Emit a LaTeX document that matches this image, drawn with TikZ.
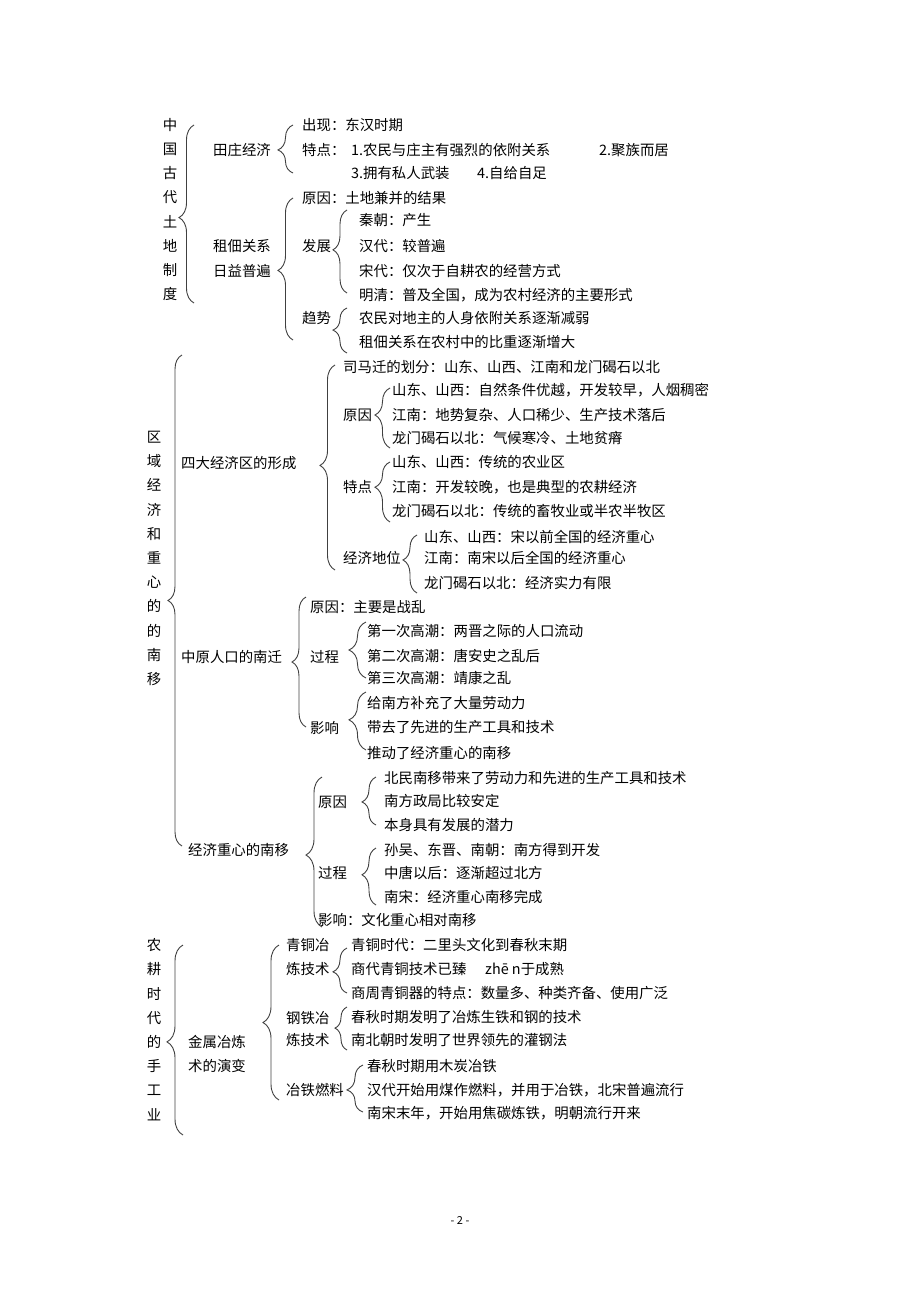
\documentclass[tikz,border=0pt]{standalone}
\usepackage{fontspec}
\setmainfont{Noto Sans CJK SC}
\usetikzlibrary{decorations.pathreplacing}

\begin{document}
\begin{tikzpicture}[x=1pt, y=-1pt,
    txt/.style={anchor=west, inner sep=0pt, font=\fontsize{14.4}{17}\selectfont},
    col/.style={anchor=center, inner sep=0pt, align=center, font=\fontsize{14.4}{24.2}\selectfont},
    brc/.style n args={2}{decorate, decoration={brace, amplitude=#1, aspect=#2}, line width=0.9pt, black!75}]
    \useasboundingbox (0,0) rectangle (920,1301);
    %\draw[step=100, gray, very thin] (0,0) grid (920,1301);

    % 中国古代土地制度
    \node[col] (zggd) at (170, 209.5) {中\\国\\古\\代\\土\\地\\制\\度};
    \node[txt] (tz) at (213, 150) {田庄经济};
    \node[txt] (tzcx) at (302, 125) {出现：东汉时期};
    \node[txt] (tztd) at (302, 150) {特点：};
    \node[txt] (tztd1) at (351, 150) {1.农民与庄主有强烈的依附关系};
    \node[txt] (tztd2) at (599, 150) {2.聚族而居};
    \node[txt] (tztd3) at (351, 173) {3.拥有私人武装};
    \node[txt] (tztd4) at (477, 173) {4.自给自足};
    \node[txt] (zd) at (213, 246) {租佃关系};
    \node[txt] (zd2) at (213, 271) {日益普遍};
    \node[txt] (zdyy) at (302, 198) {原因：土地兼并的结果};
    \node[txt] (zdfz) at (302, 246) {发展};
    \node[txt] (fz1) at (359, 220) {秦朝：产生};
    \node[txt] (fz2) at (359, 246) {汉代：较普遍};
    \node[txt] (fz3) at (359, 271) {宋代：仅次于自耕农的经营方式};
    \node[txt] (fz4) at (359, 295) {明清：普及全国，成为农村经济的主要形式};
    \node[txt] (zdqs) at (302, 318) {趋势};
    \node[txt] (qs1) at (359, 318) {农民对地主的人身依附关系逐渐减弱};
    \node[txt] (qs2) at (359, 342) {租佃关系在农村中的比重逐渐增大};

    % 区域经济和重心的南移
    \node[col] (qyjj) at (154, 558.5) {区\\域\\经\\济\\和\\重\\心\\的\\的\\南\\移};
    \node[txt] (sd) at (181, 463) {四大经济区的形成};
    \node[txt] (sdhf) at (343, 367) {司马迁的划分：山东、山西、江南和龙门碣石以北};
    \node[txt] (sdyy) at (343, 415) {原因};
    \node[txt] (yy1) at (392, 390) {山东、山西：自然条件优越，开发较早，人烟稠密};
    \node[txt] (yy2) at (392, 415) {江南：地势复杂、人口稀少、生产技术落后};
    \node[txt] (yy3) at (392, 438) {龙门碣石以北：气候寒冷、土地贫瘠};
    \node[txt] (sdtd) at (343, 487) {特点};
    \node[txt] (td1) at (392, 462) {山东、山西：传统的农业区};
    \node[txt] (td2) at (392, 487) {江南：开发较晚，也是典型的农耕经济};
    \node[txt] (td3) at (392, 511) {龙门碣石以北：传统的畜牧业或半农半牧区};
    \node[txt] (sddw) at (343, 558) {经济地位};
    \node[txt] (dw1) at (424, 537) {山东、山西：宋以前全国的经济重心};
    \node[txt] (dw2) at (424, 558) {江南：南宋以后全国的经济重心};
    \node[txt] (dw3) at (424, 583) {龙门碣石以北：经济实力有限};

    \node[txt] (zy) at (181, 657) {中原人口的南迁};
    \node[txt] (zyyy) at (310, 607) {原因：主要是战乱};
    \node[txt] (zygc) at (310, 657) {过程};
    \node[txt] (gc1) at (367, 631) {第一次高潮：两晋之际的人口流动};
    \node[txt] (gc2) at (367, 656) {第二次高潮：唐安史之乱后};
    \node[txt] (gc3) at (367, 678) {第三次高潮：靖康之乱};
    \node[txt] (zyyx) at (310, 728) {影响};
    \node[txt] (yx1) at (367, 703) {给南方补充了大量劳动力};
    \node[txt] (yx2) at (367, 727) {带去了先进的生产工具和技术};
    \node[txt] (yx3) at (367, 753) {推动了经济重心的南移};

    \node[txt] (zx) at (188, 850) {经济重心的南移};
    \node[txt] (zxyy) at (318, 802) {原因};
    \node[txt] (zxy1) at (384, 778) {北民南移带来了劳动力和先进的生产工具和技术};
    \node[txt] (zxy2) at (384, 801) {南方政局比较安定};
    \node[txt] (zxy3) at (384, 825) {本身具有发展的潜力};
    \node[txt] (zxgc) at (318, 873) {过程};
    \node[txt] (zxg1) at (384, 850) {孙吴、东晋、南朝：南方得到开发};
    \node[txt] (zxg2) at (384, 873) {中唐以后：逐渐超过北方};
    \node[txt] (zxg3) at (384, 897) {南宋：经济重心南移完成};
    \node[txt] (zxyx) at (318, 920) {影响：文化重心相对南移};

    % 农耕时代的手工业
    \node[col] (ngsd) at (154, 1029.5) {农\\耕\\时\\代\\的\\手\\工\\业};
    \node[txt] (js) at (188, 1042) {金属冶炼};
    \node[txt] (js2) at (188, 1066) {术的演变};
    \node[txt] (qt) at (286, 945) {青铜冶};
    \node[txt] (qt2) at (286, 969) {炼技术};
    \node[txt] (qt1) at (351, 945) {青铜时代：二里头文化到春秋末期};
    \node[txt] (qt2a) at (351, 969) {商代青铜技术已臻};
    \node[txt] (qt2b) at (485, 969) {zhē n于成熟};
    \node[txt] (qt3) at (351, 993) {商周青铜器的特点：数量多、种类齐备、使用广泛};
    \node[txt] (gt) at (286, 1018) {钢铁冶};
    \node[txt] (gt2) at (286, 1040) {炼技术};
    \node[txt] (gt1) at (351, 1017) {春秋时期发明了冶炼生铁和钢的技术};
    \node[txt] (gt2a) at (351, 1040) {南北朝时发明了世界领先的灌钢法};
    \node[txt] (rl) at (286, 1090) {冶铁燃料};
    \node[txt] (rl1) at (367, 1066) {春秋时期用木炭冶铁};
    \node[txt] (rl2) at (367, 1090) {汉代开始用煤作燃料，并用于冶铁，北宋普遍流行};
    \node[txt] (rl3) at (367, 1113) {南宋末年，开始用焦碳炼铁，明朝流行开来};

    \node[font=\fontsize{11}{13}\selectfont] (page) at (460, 1220) {- 2 -};

    % brace ends
    \coordinate (b1t) at (194, 125);  \coordinate (b1b) at (194, 303);
    \coordinate (b2t) at (293, 125);  \coordinate (b2b) at (293, 173);
    \coordinate (b3t) at (293, 198);  \coordinate (b3b) at (293, 340);
    \coordinate (b4t) at (347, 210);  \coordinate (b4b) at (347, 293);
    \coordinate (b5t) at (347, 308);  \coordinate (b5b) at (347, 353);
    \coordinate (b6t) at (182, 355);  \coordinate (b6b) at (182, 846);
    \coordinate (b7t) at (335, 365);  \coordinate (b7b) at (335, 570);
    \coordinate (b8t) at (390, 388);  \coordinate (b8b) at (390, 448);
    \coordinate (b9t) at (390, 462);  \coordinate (b9b) at (390, 522);
    \coordinate (b10t) at (417, 535); \coordinate (b10b) at (417, 593);
    \coordinate (b11t) at (306, 597); \coordinate (b11b) at (306, 727);
    \coordinate (b12t) at (366, 622); \coordinate (b12b) at (366, 678);
    \coordinate (b13t) at (366, 692); \coordinate (b13b) at (366, 750);
    \coordinate (b14t) at (322, 777); \coordinate (b14b) at (322, 927);
    \coordinate (b15t) at (376, 777); \coordinate (b15b) at (376, 825);
    \coordinate (b16t) at (376, 848); \coordinate (b16b) at (376, 905);
    \coordinate (b17t) at (183, 945); \coordinate (b17b) at (183, 1135);
    \coordinate (b18t) at (279, 945); \coordinate (b18b) at (279, 1100);
    \coordinate (b19t) at (347, 948); \coordinate (b19b) at (347, 993);
    \coordinate (b20t) at (347, 1007); \coordinate (b20b) at (347, 1050);
    \coordinate (b21t) at (363, 1065); \coordinate (b21b) at (363, 1112);

    \draw[brc={15pt}{0.48}] (b1b) -- (b1t);
    \draw[brc={15pt}{0.48}] (b2b) -- (b2t);
    \draw[brc={15pt}{0.49}] (b3b) -- (b3t);
    \draw[brc={14pt}{0.52}] (b4b) -- (b4t);
    \draw[brc={14pt}{0.51}] (b5b) -- (b5t);
    \draw[brc={14pt}{0.50}] (b6b) -- (b6t);
    \draw[brc={15pt}{0.51}] (b7b) -- (b7t);
    \draw[brc={15pt}{0.55}] (b8b) -- (b8t);
    \draw[brc={15pt}{0.58}] (b9b) -- (b9t);
    \draw[brc={14pt}{0.57}] (b10b) -- (b10t);
    \draw[brc={14pt}{0.50}] (b11b) -- (b11t);
    \draw[brc={17pt}{0.50}] (b12b) -- (b12t);
    \draw[brc={17pt}{0.52}] (b13b) -- (b13t);
    \draw[brc={16pt}{0.48}] (b14b) -- (b14t);
    \draw[brc={14pt}{0.48}] (b15b) -- (b15t);
    \draw[brc={14pt}{0.53}] (b16b) -- (b16t);
    \draw[brc={16pt}{0.49}] (b17b) -- (b17t);
    \draw[brc={16pt}{0.50}] (b18b) -- (b18t);
    \draw[brc={14pt}{0.47}] (b19b) -- (b19t);
    \draw[brc={12pt}{0.51}] (b20b) -- (b20t);
    \draw[brc={16pt}{0.47}] (b21b) -- (b21t);

\end{tikzpicture}
\end{document}
